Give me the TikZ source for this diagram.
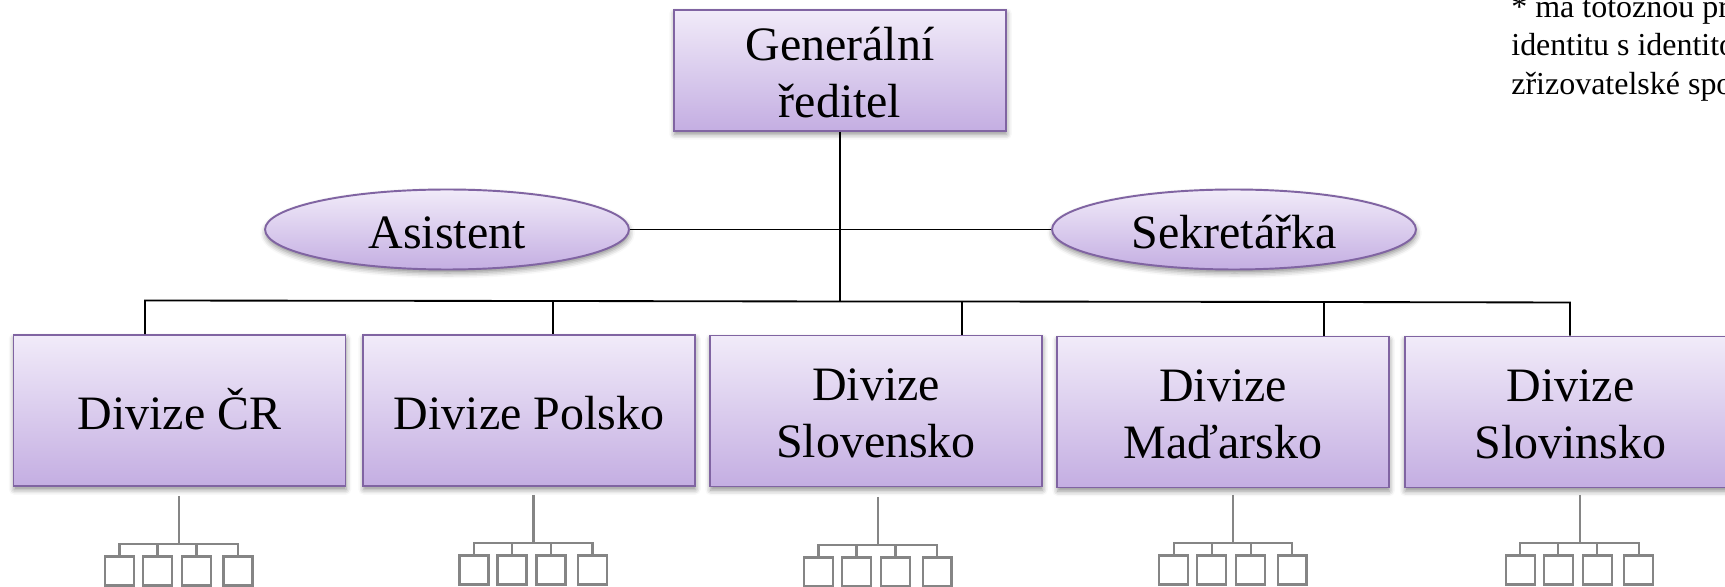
\documentclass[tikz,border=0pt]{standalone}
\usepackage{fontspec}
\setmainfont{Liberation Serif}
\usepackage{xcolor}
\usetikzlibrary{shapes.geometric,shadows.blur}
\definecolor{boxtop}{HTML}{F1EBF9}
\definecolor{boxbottom}{HTML}{C4AEE2}
\definecolor{boxline}{HTML}{8064A2}
\definecolor{minigray}{HTML}{858585}
\newcommand{\lowone}{\rule{0pt}{0.72cm}}
\newcommand{\lowroot}{\rule{0pt}{0.75cm}}
\tikzset{
  purplefill/.style={draw=boxline,line width=1.1pt,top color=boxtop,bottom color=boxbottom,
    blur shadow={shadow xshift=0.3pt,shadow yshift=-2pt,shadow blur radius=3pt,shadow opacity=45},
    align=center,inner sep=0pt,font=\fontsize{27.3}{32.7}\selectfont},
  divbox/.style={purplefill,rectangle,minimum width=6.64cm,minimum height=3.02cm},
  rootbox/.style={purplefill,rectangle,minimum width=6.64cm,minimum height=2.42cm},
  helper/.style={purplefill,ellipse,minimum width=7.28cm,minimum height=1.6cm},
  oneline/.style={text height=0.85cm,text depth=0.08cm},
  link/.style={draw=black,line width=1.05pt},
  minibox/.style={draw=minigray,line width=1.15pt,rectangle,minimum width=0.58cm,minimum height=0.58cm,inner sep=0pt},
  minilink/.style={draw=minigray,line width=1.15pt},
  note/.style={align=left,inner sep=0pt,font=\fontsize{18.2}{21.9}\selectfont}
}

\begin{document}
\begin{tikzpicture}[x=0.02cm,y=-0.02cm]
        \useasboundingbox (0,0) rectangle (1725,587);
        % lines first, boxes on top
        \node[rootbox] (ceo) at (840,70.3) {\lowroot Generální\\ředitel};
        \node[helper,oneline] (asistent) at (447,229.5) {Asistent};
        \node[helper,oneline] (sekretarka) at (1234,229.5) {Sekretářka};
        \node[divbox,oneline] (divcr) at (179.5,410.5) {Divize ČR};
        \node[divbox,oneline] (divpl) at (529,410.5) {Divize Polsko};
        \node[divbox] (divsk) at (876,411) {\lowone Divize\\Slovensko};
        \node[divbox] (divhu) at (1223,412) {\lowone Divize\\Maďarsko};
        \node[divbox] (divsi) at (1570.5,412) {\lowone Divize\\Slovinsko};
        \coordinate (busa) at (145,300.5);
        \coordinate (busb) at (553,301);
        \coordinate (busmid) at (840,301.5);
        \coordinate (busc) at (962,301.5);
        \coordinate (busd) at (1324,302);
        \coordinate (buse) at (1570,302.5);
        \draw[link] (ceo.south) -- (busmid);
        \draw[link] (asistent.east) -- (sekretarka.west);
        \draw[link] (divcr.north -| busa) -- (busa) -- (busb) -- (busmid) -- (busc) -- (busd) -- (buse) -- (divsi.north -| buse);
        \draw[link] (busb) -- (divpl.north -| busb);
        \draw[link] (busc) -- (divsk.north -| busc);
        \draw[link] (busd) -- (divhu.north -| busd);
        % small org icons under each division
        \foreach \nm/\cx/\cy in {a/179/496,b/533.5/495,c/878/497,d/1233/495,e/1579.5/495} {
          \coordinate (stem\nm) at (\cx,\cy);
          \coordinate (top\nm) at (\cx,\cy+48);
          \foreach \k/\dx in {1/-59.5,2/-21.5,3/17.5,4/59} {
            \node[minibox] (m\nm\k) at (\cx+\dx,\cy+75) {};
          }
          \draw[minilink] (stem\nm) -- (top\nm);
          \draw[minilink] (m\nm1.north) |- (top\nm);
          \draw[minilink] (m\nm4.north) |- (top\nm);
          \draw[minilink] (m\nm2.north) -- (m\nm2.north |- top\nm);
          \draw[minilink] (m\nm3.north) -- (m\nm3.north |- top\nm);
        }
        \node[note,anchor=north west] (poznamka) at (1511,-5.5) {* má totožnou pr\\identitu s identito\\zřizovatelské spo};
\end{tikzpicture}
\end{document}
